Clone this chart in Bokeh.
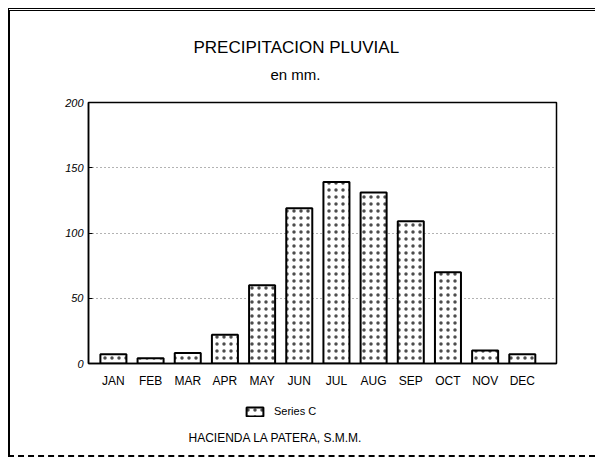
from bokeh.plotting import figure
from bokeh.models import Legend, LegendItem, FixedTicker, Range1d, Title, Label, ColumnDataSource
from bokeh.layouts import column
from bokeh.embed import file_html
from bokeh.resources import INLINE

months = ["JAN", "FEB", "MAR", "APR", "MAY", "JUN", "JUL", "AUG", "SEP", "OCT", "NOV", "DEC"]
precip = [7, 4, 8, 22, 60, 119, 139, 131, 109, 70, 10, 7]
y_ticks = [0, 50, 100, 150, 200]
series_name = "Series C"
title_text = "PRECIPITACION PLUVIAL"
subtitle_text = "en mm."
footer_text = "HACIENDA LA PATERA, S.M.M."

FONT = "Liberation Sans"
xs = list(range(len(months)))
bar_style = dict(fill_color="white", line_color="black", line_width=2,
                 hatch_pattern="dot", hatch_color="black", hatch_scale=7,
                 hatch_weight=0.8, hatch_alpha=0.7)

p = figure(width=585, height=382, output_backend="svg", toolbar_location=None,
           x_range=Range1d(-0.67, 11.92), y_range=Range1d(0, 200),
           frame_width=468, frame_height=261,
           min_border_left=78, min_border_right=39, min_border_top=91, min_border_bottom=30)

r = p.vbar(x=xs, top=precip, width=0.7, **bar_style)

p.outline_line_color = "black"
p.outline_line_width = 1.5

p.xgrid.visible = False
p.ygrid.ticker = FixedTicker(ticks=y_ticks)
p.ygrid.grid_line_color = "black"
p.ygrid.grid_line_dash = "1 3"
p.ygrid.grid_line_width = 1
p.ygrid.grid_line_alpha = 0.6

p.xaxis.ticker = FixedTicker(ticks=xs)
p.xaxis.major_label_overrides = {i: m for i, m in enumerate(months)}
p.xaxis.major_tick_in = 0
p.xaxis.major_tick_out = 0
p.xaxis.minor_tick_in = 0
p.xaxis.minor_tick_out = 0
p.xaxis.axis_line_width = 1.5
p.xaxis.major_label_standoff = 10
p.xaxis.major_label_text_font = FONT
p.xaxis.major_label_text_font_size = "12px"
p.xaxis.major_label_text_color = "black"

p.yaxis.ticker = FixedTicker(ticks=y_ticks)
p.yaxis.major_tick_in = 4
p.yaxis.major_tick_out = 0
p.yaxis.minor_tick_line_color = None
p.yaxis.axis_line_width = 1.5
p.yaxis.major_label_standoff = 5
p.yaxis.major_label_text_font = FONT
p.yaxis.major_label_text_font_style = "italic"
p.yaxis.major_label_text_font_size = "11px"
p.yaxis.major_label_text_color = "black"

# above panels: spacer, subtitle, title (later added = further out)
p.add_layout(Title(text=" ", text_font_size="10px", standoff=3), "above")
p.add_layout(Title(text=subtitle_text, text_font=FONT, text_font_size="15px", text_color="black",
                   text_font_style="normal", align="left", offset=182, standoff=6,
                   vertical_align="middle"), "above")
p.add_layout(Title(text=title_text, text_font=FONT, text_font_size="17px", text_color="black",
                   text_font_style="normal", align="left", offset=105, standoff=8,
                   vertical_align="middle"), "above")

# bottom strip: legend and footer (its frame lines up with the main frame)
q = figure(width=585, height=62, output_backend="svg", toolbar_location=None,
           x_range=Range1d(0, 1), y_range=Range1d(0, 1),
           min_border=0, min_border_left=0, min_border_right=0, min_border_top=0, min_border_bottom=0)
q.axis.visible = False
q.grid.visible = False
q.outline_line_color = None
# hidden legend proxy with the same style as the bars
r2 = q.vbar(x="x", top="top", width=0.1, source=ColumnDataSource(dict(x=[0.5], top=[0.5])), **bar_style)
r2.visible = False
legend = Legend(items=[LegendItem(label=series_name, renderers=[r2])],
                location=(156, 37), border_line_color=None, background_fill_alpha=0,
                inactive_fill_alpha=0,
                label_text_font=FONT, label_text_font_size="11px", label_height=14,
                label_text_color="black", label_standoff=9,
                glyph_width=21, glyph_height=11, padding=0, margin=0, spacing=0)
q.add_layout(legend)
q.add_layout(Label(x=100, y=18, x_units="screen", y_units="screen", text=footer_text,
                   text_font=FONT, text_font_size="12px", text_color="black",
                   text_baseline="middle", text_align="left"))

layout = column(p, q, spacing=0)
layout.styles = {"margin-top": "8px", "margin-left": "8px",
                 "border-top": "3px double black", "border-left": "2px solid black",
                 "border-bottom": "2px dashed black"}

open("out.html", "w").write(file_html(layout, INLINE))
